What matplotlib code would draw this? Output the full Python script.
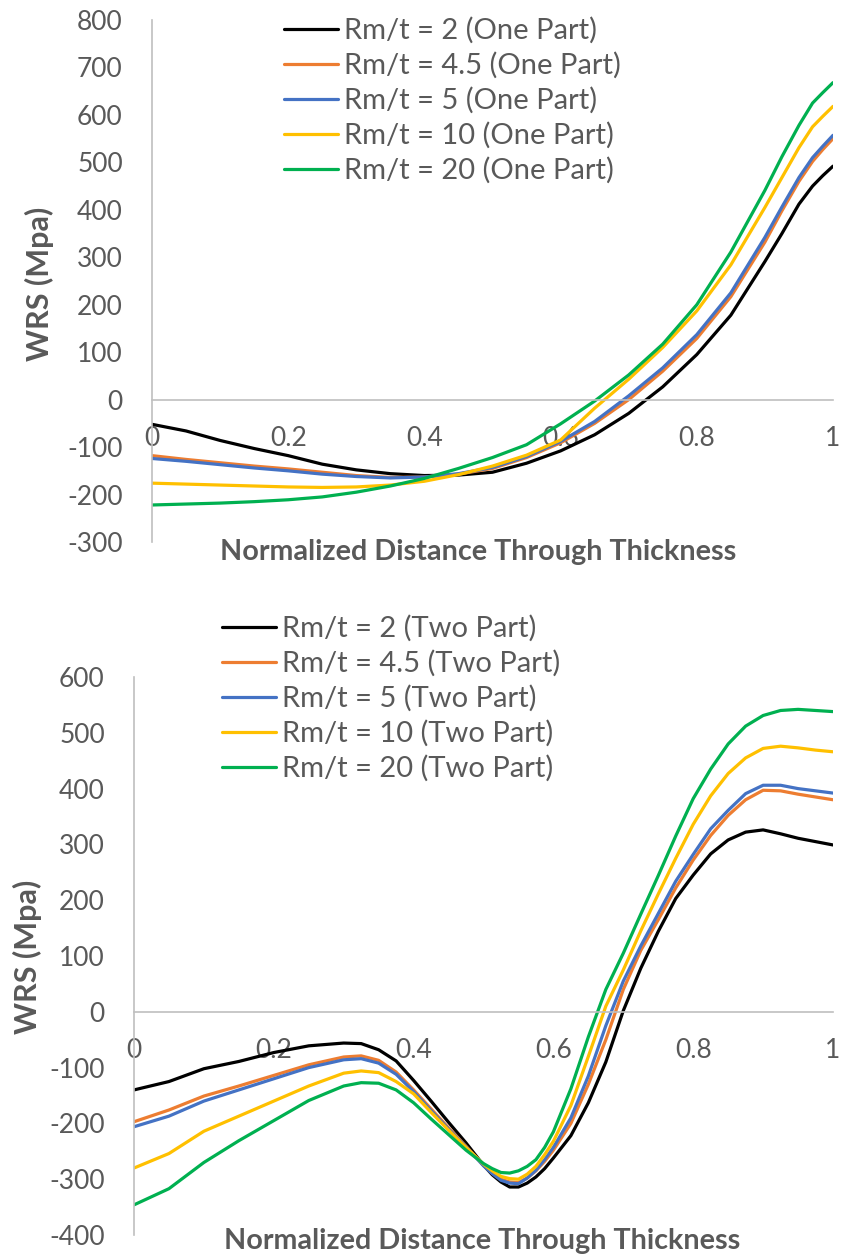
import numpy as np
import matplotlib.pyplot as plt

plt.rcParams['font.family'] = ['Lato', 'DejaVu Sans']
plt.rcParams['axes.unicode_minus'] = False

# one-part model, Normalized distance -> WRS (MPa)
x_one = [0, .05, .1, .15, .2, .25, .3, .35, .4, .45, .5, .55, .6, .65,
         .7, .75, .8, .85, .9, .925, .95, .97, .985, 1.0]
one_rm2 = [-52, -66, -86, -103, -118, -136, -148, -156, -160, -159, -153, -134,
           -108, -74, -29, 27, 95, 178, 291, 350, 412, 450, 472, 492]
one_rm45 = [-118, -126, -133, -140, -146, -153, -160, -164, -163, -157, -145, -122,
            -91, -50, 0, 60, 129, 217, 332, 398, 460, 502, 527, 550]
one_rm5 = [-124, -130, -137, -144, -150, -157, -162, -165, -163, -156, -143, -120,
           -88, -46, 8, 67, 137, 225, 342, 406, 468, 510, 534, 557]
one_rm10 = [-176, -178, -180, -182, -184, -185, -184, -180, -172, -158, -140, -117,
            -85, -18, 43, 110, 187, 284, 405, 468, 531, 575, 597, 618]
one_rm20 = [-222, -220, -218, -215, -211, -205, -195, -182, -166, -145, -122, -95,
            -51, -3, 52, 117, 200, 311, 441, 512, 578, 625, 647, 668]

# two-part model
x_two = [0, .05, .1, .15, .2, .25, .3, .325, .35, .375, .4, .425, .45, .475, .5,
         .5125, .525, .5375, .55, .5625, .575, .5875, .6, .625, .65, .675, .7,
         .725, .75, .775, .8, .825, .85, .875, .9, .925, .95, .975, 1.0]
two_rm2 = [-140, -125, -102, -89, -73, -61, -56, -57, -68, -88, -123, -160, -198,
           -235, -275, -292, -305, -314, -314, -307, -296, -281, -262, -222, -163,
           -90, 2, 78, 144, 203, 245, 283, 308, 322, 326, 319, 311, 305, 299]
two_rm45 = [-197, -176, -151, -133, -114, -95, -81, -79, -87, -108, -140, -174, -208,
            -241, -275, -289, -300, -305, -306, -298, -285, -268, -248, -200, -130,
            -50, 40, 110, 165, 222, 272, 316, 352, 380, 397, 396, 390, 385, 380]
two_rm5 = [-206, -187, -160, -140, -120, -100, -86, -84, -92, -112, -143, -177, -210,
           -242, -276, -290, -302, -307, -308, -298, -284, -265, -243, -190, -115,
           -25, 55, 118, 176, 234, 282, 328, 361, 391, 406, 406, 400, 396, 392]
two_rm10 = [-280, -254, -214, -187, -160, -133, -110, -106, -109, -125, -147, -180, -212,
            -243, -273, -285, -295, -299, -300, -291, -277, -256, -232, -168, -80,
            10, 75, 145, 211, 275, 336, 387, 427, 455, 472, 476, 473, 469, 466]
two_rm20 = [-346, -317, -270, -231, -195, -159, -133, -127, -128, -140, -163, -192, -220,
            -248, -272, -281, -288, -289, -285, -277, -265, -243, -215, -138, -45,
            40, 105, 175, 244, 315, 382, 435, 480, 512, 531, 540, 542, 540, 538]

ratios = ['2', '4.5', '5', '10', '20']
colors = ['#000000', '#ED7D31', '#4472C4', '#FFC000', '#00B050']
text_col = '#595959'
axis_col = '#BFBFBF'

fig = plt.figure(figsize=(8.43, 12.58), dpi=100)
W, H = 843, 1258


def px_axes(left, top, right, bottom):
    return fig.add_axes([left / W, 1 - bottom / H, (right - left) / W, (bottom - top) / H])


def style(ax, ymin, ymax):
    ax.set_xlim(0, 1)
    ax.set_ylim(ymin, ymax)
    ax.set_yticks(np.arange(ymin, ymax + 1, 100))
    ax.set_xticks([0, 0.2, 0.4, 0.6, 0.8, 1])
    ax.set_xticklabels(['0', '0.2', '0.4', '0.6', '0.8', '1'])
    ax.spines['top'].set_visible(False)
    ax.spines['right'].set_visible(False)
    ax.spines['bottom'].set_position(('data', 0))
    for s in ('left', 'bottom'):
        ax.spines[s].set_color(axis_col)
        ax.spines[s].set_linewidth(1.2)
    ax.tick_params(axis='x', length=0, pad=19, labelsize=19, labelcolor=text_col)
    ax.tick_params(axis='y', length=0, pad=21, labelsize=19, labelcolor=text_col)
    ax.patch.set_alpha(0)


def add_legend(ax, x0, y0):
    ax.legend(loc='upper left', bbox_to_anchor=(x0 / W, 1 - y0 / H),
              bbox_transform=fig.transFigure, frameon=False, fontsize=21,
              handlelength=1.85, handletextpad=0.2, labelspacing=0.28,
              borderaxespad=0, borderpad=0, labelcolor=text_col)


ax1 = px_axes(152, 20, 833, 542)
series_one = [one_rm2, one_rm45, one_rm5, one_rm10, one_rm20]
for r, ys, c in zip(ratios, series_one, colors):
    ax1.plot(x_one, ys, color=c, lw=2.3, label=f'Rm/t = {r} (One Part)',
             solid_joinstyle='round', solid_capstyle='round')
style(ax1, -300, 800)
add_legend(ax1, 284, 17)

ax2 = px_axes(134, 677, 833, 1235)
series_two = [two_rm2, two_rm45, two_rm5, two_rm10, two_rm20]
for r, ys, c in zip(ratios, series_two, colors):
    ax2.plot(x_two, ys, color=c, lw=2.3, label=f'Rm/t = {r} (Two Part)',
             solid_joinstyle='round', solid_capstyle='round')
style(ax2, -400, 600)
add_legend(ax2, 222, 615)

# axis titles
fig.text(478 / W, 1 - 552 / H, 'Normalized Distance Through Thickness',
         ha='center', va='center', fontsize=20.7, fontweight='bold', color=text_col)
fig.text(482 / W, 1 - 1241 / H, 'Normalized Distance Through Thickness',
         ha='center', va='center', fontsize=20.7, fontweight='bold', color=text_col)
fig.text(39 / W, 1 - 284 / H, 'WRS (Mpa)', rotation=90, ha='center', va='center',
         fontsize=22, fontweight='bold', color=text_col)
fig.text(27 / W, 1 - 957 / H, 'WRS (Mpa)', rotation=90, ha='center', va='center',
         fontsize=22, fontweight='bold', color=text_col)

fig.savefig('out.png', dpi=100)
